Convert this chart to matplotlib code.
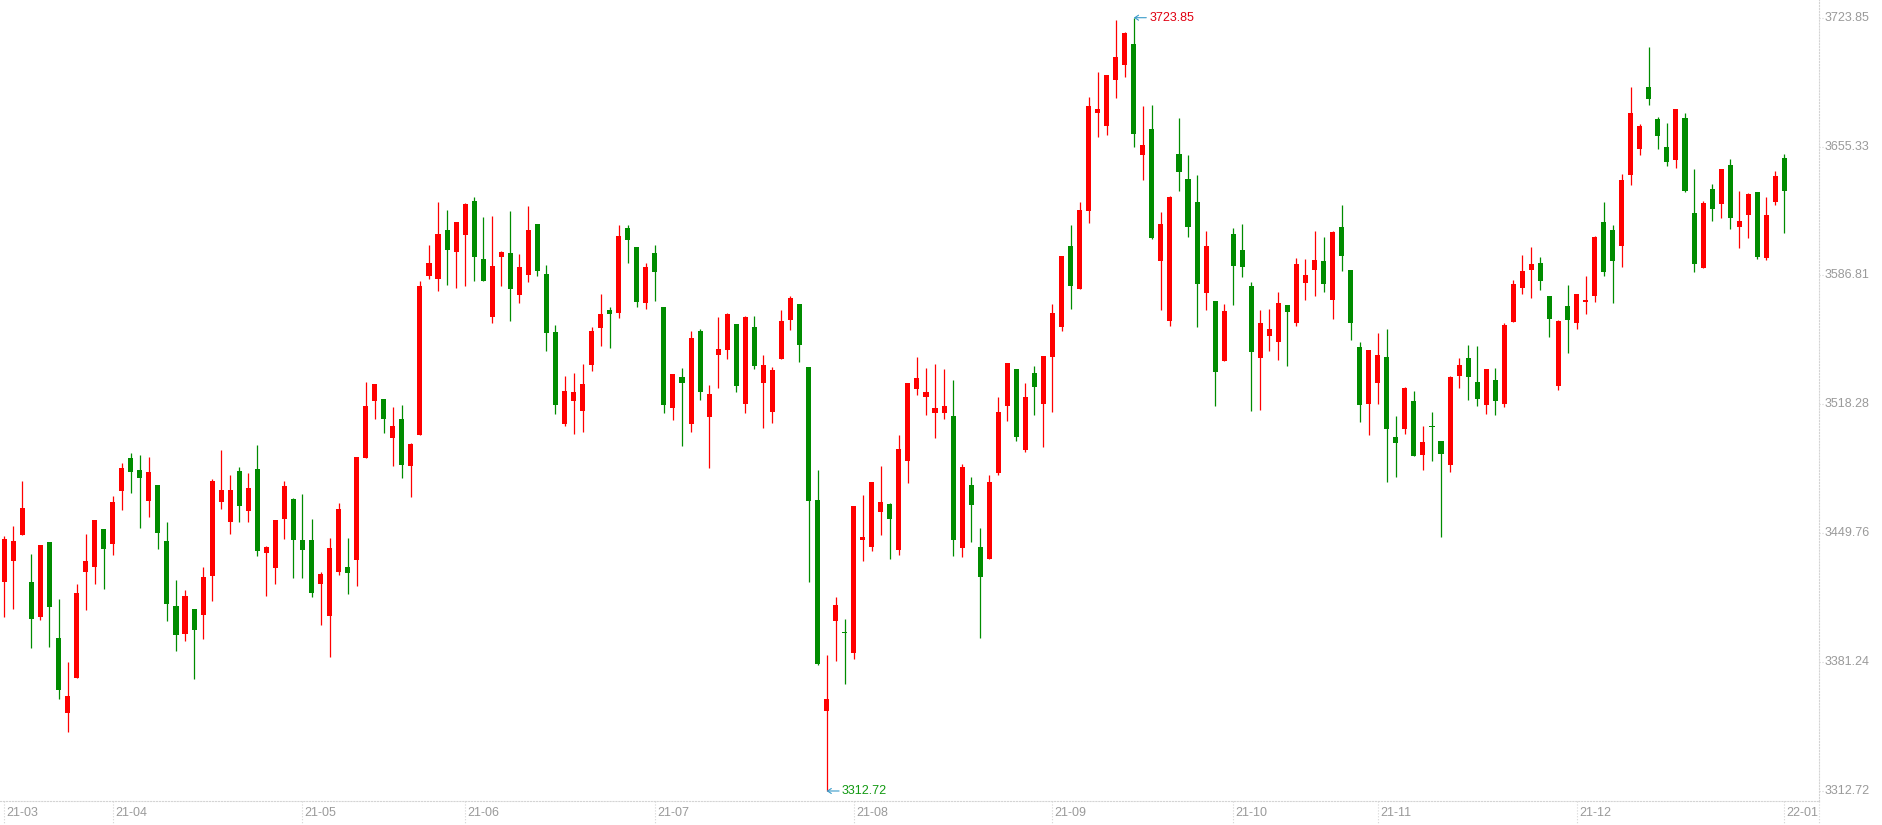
import matplotlib
matplotlib.use("Agg")
import matplotlib.pyplot as plt
import matplotlib.transforms as mtransforms
import numpy as np

# daily candles, 2021-03-16 .. 2022-01-04
opens = [3424.01, 3435.18, 3449.00, 3423.84, 3405.41, 3445.10, 3394.06, 3354.37, 3372.98, 3429.33,
         3431.99, 3452.02, 3444.22, 3472.40, 3489.80, 3483.38, 3467.08, 3475.41, 3445.64, 3411.08,
         3396.37, 3409.48, 3406.47, 3427.20, 3466.55, 3455.91, 3482.85, 3461.76, 3483.91, 3439.43,
         3431.46, 3457.51, 3467.96, 3446.17, 3446.17, 3422.95, 3405.94, 3429.33, 3431.81, 3435.71,
         3489.94, 3520.24, 3521.13, 3500.57, 3510.50, 3485.69, 3502.17, 3586.52, 3584.92, 3610.97,
         3599.28, 3608.32, 3626.39, 3595.56, 3564.72, 3596.62, 3598.75, 3576.42, 3587.05, 3614.16,
         3587.58, 3556.74, 3507.83, 3520.06, 3514.74, 3539.20, 3558.87, 3568.44, 3566.85, 3612.04,
         3601.94, 3572.35, 3598.50, 3570.04, 3516.52, 3532.83, 3508.02, 3557.28, 3511.74, 3544.70,
         3547.36, 3561.01, 3518.65, 3559.41, 3529.81, 3514.40, 3542.57, 3563.31, 3571.64, 3538.14,
         3467.43, 3355.43, 3403.28, 3397.43, 3386.00, 3446.34, 3442.62, 3461.23, 3465.31, 3441.03,
         3488.34, 3526.62, 3522.37, 3513.87, 3513.87, 3512.09, 3442.09, 3475.41, 3442.45, 3436.24,
         3481.97, 3517.59, 3537.08, 3494.19, 3534.95, 3518.65, 3543.64, 3559.58, 3602.47, 3579.79,
         3621.26, 3673.36, 3666.45, 3690.90, 3698.88, 3709.87, 3651.03, 3664.67, 3594.68, 3562.77,
         3651.38, 3638.09, 3625.86, 3577.66, 3573.41, 3541.51, 3608.85, 3600.34, 3581.20, 3543.10,
         3554.80, 3551.61, 3571.11, 3561.72, 3582.98, 3589.89, 3594.50, 3573.94, 3612.58, 3589.72,
         3548.78, 3518.65, 3529.82, 3543.46, 3500.93, 3505.36, 3520.07, 3491.54, 3506.95, 3498.80,
         3486.22, 3533.54, 3542.93, 3530.17, 3518.12, 3531.23, 3518.65, 3562.24, 3580.32, 3589.89,
         3593.44, 3575.89, 3528.22, 3570.57, 3561.71, 3572.88, 3576.07, 3615.23, 3610.98, 3602.65,
         3640.00, 3654.22, 3687.00, 3670.00, 3655.10, 3648.19, 3670.52, 3620.01, 3590.77, 3632.77,
         3624.80, 3645.53, 3612.57, 3618.95, 3631.18, 3596.09, 3625.86, 3649.25]

highs = [3448.29, 3453.61, 3477.54, 3438.72, 3443.51, 3445.10, 3414.80, 3381.31, 3422.77, 3449.36,
         3456.80, 3452.02, 3469.56, 3487.28, 3492.60, 3491.50, 3490.50, 3475.41, 3455.74, 3424.90,
         3419.58, 3409.48, 3431.81, 3478.60, 3494.02, 3480.72, 3484.98, 3481.79, 3496.67, 3442.97,
         3456.80, 3477.53, 3468.30, 3470.62, 3457.33, 3429.15, 3447.23, 3465.84, 3447.23, 3490.29,
         3530.17, 3529.11, 3521.13, 3516.88, 3517.94, 3497.74, 3583.86, 3603.00, 3625.86, 3621.61,
         3615.23, 3625.33, 3628.52, 3617.89, 3618.42, 3599.81, 3621.07, 3598.21, 3623.73, 3614.16,
         3592.37, 3560.47, 3533.35, 3534.95, 3539.73, 3559.40, 3576.95, 3570.04, 3613.63, 3613.63,
         3601.94, 3593.50, 3603.00, 3570.04, 3534.42, 3537.61, 3557.28, 3558.35, 3528.58, 3564.73,
         3566.85, 3561.01, 3565.26, 3565.26, 3544.52, 3538.14, 3568.45, 3575.89, 3571.64, 3538.14,
         3483.38, 3385.03, 3415.86, 3404.17, 3464.24, 3470.09, 3477.00, 3485.51, 3465.84, 3502.00,
         3529.64, 3543.46, 3537.61, 3539.74, 3537.08, 3531.23, 3486.57, 3479.66, 3452.55, 3480.72,
         3522.19, 3540.27, 3537.08, 3529.64, 3538.67, 3543.99, 3571.50, 3597.15, 3613.63, 3625.86,
         3681.69, 3694.98, 3693.38, 3722.63, 3716.25, 3723.85, 3676.90, 3677.43, 3620.55, 3629.05,
         3670.52, 3650.85, 3640.22, 3610.45, 3573.41, 3571.64, 3612.04, 3614.16, 3583.33, 3568.62,
         3569.15, 3578.02, 3571.11, 3596.10, 3595.57, 3610.45, 3607.26, 3610.45, 3624.27, 3589.72,
         3551.43, 3547.18, 3556.22, 3558.35, 3512.09, 3527.51, 3525.39, 3506.78, 3514.22, 3498.80,
         3533.36, 3542.93, 3549.84, 3549.31, 3537.08, 3537.61, 3561.53, 3584.40, 3597.69, 3601.94,
         3596.63, 3575.89, 3563.13, 3581.74, 3576.95, 3586.52, 3607.79, 3625.87, 3613.64, 3641.00,
         3687.00, 3667.33, 3708.27, 3671.05, 3667.86, 3675.31, 3673.18, 3643.41, 3626.40, 3635.43,
         3643.41, 3648.72, 3631.71, 3630.65, 3631.18, 3628.52, 3642.34, 3651.38]

lows = [3405.41, 3409.48, 3449.00, 3388.93, 3403.63, 3389.46, 3361.81, 3344.27, 3372.98, 3408.95,
        3422.77, 3420.12, 3438.19, 3462.12, 3471.33, 3452.72, 3458.57, 3441.56, 3403.28, 3387.33,
        3392.65, 3372.44, 3393.53, 3413.91, 3462.82, 3449.53, 3455.91, 3455.91, 3437.84, 3416.57,
        3422.95, 3446.87, 3426.14, 3426.14, 3416.04, 3401.15, 3384.14, 3427.74, 3417.63, 3421.89,
        3489.94, 3510.67, 3503.23, 3485.69, 3479.31, 3469.20, 3502.17, 3585.10, 3578.54, 3581.73,
        3580.14, 3581.20, 3583.86, 3583.86, 3561.53, 3581.20, 3562.59, 3572.16, 3583.33, 3586.52,
        3546.64, 3513.15, 3506.77, 3502.52, 3503.58, 3536.01, 3549.30, 3548.24, 3564.19, 3593.43,
        3570.04, 3569.16, 3573.41, 3513.87, 3510.14, 3496.32, 3503.76, 3520.78, 3484.62, 3527.16,
        3542.57, 3525.03, 3513.87, 3537.26, 3505.89, 3508.55, 3542.57, 3557.99, 3540.98, 3424.01,
        3379.71, 3312.72, 3382.01, 3369.78, 3383.00, 3435.18, 3440.49, 3449.00, 3436.24, 3438.37,
        3476.65, 3523.43, 3512.80, 3500.57, 3510.67, 3437.84, 3437.31, 3445.28, 3394.24, 3436.24,
        3480.90, 3509.61, 3498.98, 3493.13, 3512.80, 3495.79, 3514.40, 3557.28, 3569.15, 3579.79,
        3614.87, 3660.60, 3661.66, 3681.33, 3692.50, 3655.28, 3637.74, 3606.37, 3568.62, 3560.11,
        3631.89, 3607.43, 3559.58, 3568.62, 3517.58, 3541.51, 3571.28, 3586.17, 3514.92, 3515.46,
        3546.82, 3542.04, 3538.85, 3560.12, 3573.94, 3576.07, 3578.20, 3563.84, 3589.36, 3552.68,
        3509.08, 3502.17, 3518.65, 3477.18, 3479.84, 3502.70, 3491.00, 3483.56, 3488.35, 3447.94,
        3482.50, 3527.16, 3520.78, 3517.58, 3513.33, 3512.80, 3517.06, 3562.24, 3577.13, 3575.01,
        3579.26, 3554.27, 3526.09, 3545.76, 3558.52, 3566.50, 3572.88, 3586.70, 3572.35, 3591.49,
        3635.00, 3651.03, 3677.43, 3654.04, 3645.00, 3643.94, 3631.18, 3588.82, 3590.77, 3615.76,
        3617.35, 3611.51, 3601.40, 3606.72, 3595.56, 3595.02, 3624.27, 3609.38]

closes = [3446.70, 3445.64, 3463.18, 3404.34, 3443.51, 3410.72, 3366.60, 3363.23, 3417.99, 3435.00,
          3456.80, 3441.56, 3466.37, 3484.45, 3482.50, 3479.31, 3482.32, 3450.07, 3412.32, 3395.84,
          3416.39, 3398.50, 3426.50, 3477.53, 3472.75, 3472.75, 3464.42, 3473.81, 3440.50, 3442.44,
          3456.80, 3474.88, 3446.34, 3441.03, 3418.17, 3428.09, 3441.91, 3462.65, 3428.80, 3490.29,
          3517.41, 3529.11, 3510.67, 3506.78, 3486.22, 3497.21, 3581.20, 3593.43, 3608.85, 3600.34,
          3615.23, 3624.80, 3596.62, 3583.86, 3591.83, 3599.28, 3579.61, 3591.30, 3610.97, 3589.18,
          3556.21, 3517.93, 3525.38, 3524.85, 3529.10, 3557.28, 3566.32, 3566.32, 3607.78, 3605.66,
          3572.69, 3591.20, 3588.80, 3518.12, 3534.42, 3529.81, 3553.56, 3525.03, 3523.79, 3547.71,
          3566.32, 3528.22, 3564.73, 3538.85, 3539.21, 3536.55, 3562.60, 3574.83, 3550.02, 3467.08,
          3380.24, 3361.63, 3411.61, 3396.90, 3464.24, 3447.76, 3477.00, 3466.37, 3457.51, 3494.55,
          3529.64, 3532.29, 3524.85, 3516.35, 3517.41, 3446.34, 3484.98, 3464.95, 3426.67, 3477.00,
          3514.22, 3540.27, 3501.10, 3522.19, 3527.69, 3543.99, 3567.10, 3597.15, 3581.38, 3621.61,
          3676.90, 3675.13, 3693.38, 3702.95, 3715.71, 3662.19, 3656.17, 3606.90, 3614.18, 3628.52,
          3641.99, 3612.75, 3582.44, 3602.47, 3535.66, 3568.09, 3592.01, 3591.48, 3546.29, 3561.53,
          3558.35, 3572.17, 3567.56, 3592.91, 3587.06, 3595.03, 3582.45, 3609.92, 3597.34, 3561.72,
          3518.12, 3547.18, 3544.53, 3505.36, 3497.92, 3526.98, 3491.00, 3498.27, 3506.42, 3492.07,
          3532.83, 3539.21, 3533.00, 3521.31, 3537.08, 3520.24, 3560.47, 3582.27, 3589.18, 3592.90,
          3584.04, 3563.84, 3562.60, 3563.31, 3576.95, 3573.77, 3607.26, 3588.83, 3594.68, 3637.60,
          3673.00, 3666.27, 3680.62, 3660.95, 3647.13, 3675.31, 3631.71, 3593.08, 3625.35, 3622.14,
          3643.41, 3617.35, 3615.76, 3630.12, 3596.62, 3618.95, 3639.68, 3631.71]

# first trading day of each month (candle index) and its label
month_starts = [0, 12, 33, 51, 72, 94, 116, 136, 152, 174, 197]
month_labels = ["21-03", "21-04", "21-05", "21-06", "21-07", "21-08",
                "21-09", "21-10", "21-11", "21-12", "22-01"]

y_ticks = [3723.85, 3655.33, 3586.81, 3518.28, 3449.76, 3381.24, 3312.72]

UP = "#ff0000"
DOWN = "#008c00"
GRID = "#d4d4d4"
TXT = "#9a9a9a"
FONT = "Liberation Sans"

W, H = 1882, 825
fig = plt.figure(figsize=(W / 100, H / 100), dpi=100)
ax = fig.add_axes([0, 24 / H, 1819 / W, 801 / H])

x = np.arange(len(opens))
o = np.array(opens)
c = np.array(closes)
cols = [UP if cc >= oo else DOWN for oo, cc in zip(o, c)]

ax.vlines(x, lows, highs, colors=cols, lw=0.9)
bottom = np.minimum(o, c)
height = np.maximum(np.abs(c - o), 0.6)
ax.bar(x, height, bottom=bottom, width=0.56, color=cols, linewidth=0)

ax.set_xlim(-0.476, 200.83)
ax.set_ylim(3307.40, 3733.26)
ax.set_xticks([])
ax.set_yticks([])
for s in ["top", "left"]:
    ax.spines[s].set_visible(False)
for s in ["right", "bottom"]:
    ax.spines[s].set_color(GRID)
    ax.spines[s].set_linestyle(":")
    ax.spines[s].set_linewidth(0.8)

# right price axis
ty = mtransforms.blended_transform_factory(ax.transAxes, ax.transData)
for v in y_ticks:
    ax.plot([1.0, 1.0025], [v, v], transform=ty, color=GRID, ls=":", lw=0.8, clip_on=False)
    ax.text(1.0028, v, "%.2f" % v, transform=ty, ha="left", va="center",
            fontsize=9, color=TXT, family=FONT, clip_on=False)

# month axis
tx = mtransforms.blended_transform_factory(ax.transData, ax.transAxes)
for i, lab in zip(month_starts, month_labels):
    ax.plot([i, i], [0, -24 / 801], transform=tx, color=GRID, ls=":", lw=0.8, clip_on=False)
    ax.text(i + 0.25, -12 / 801, lab, transform=tx, ha="left", va="center",
            fontsize=9, color=TXT, family=FONT, clip_on=False)
ax.plot([1, 1], [0, -24 / 801], transform=ax.transAxes, color=GRID, ls=":", lw=0.8, clip_on=False)

# highest / lowest marks
hi = int(np.argmax(highs))
lo = int(np.argmin(lows))
arrow = dict(arrowstyle="->,head_length=0.3,head_width=0.2", color="#3a9bc9",
             lw=0.8, shrinkA=0, shrinkB=0)
ax.annotate("%.2f" % highs[hi], xy=(hi, highs[hi]), xytext=(11, 0),
            textcoords="offset points", ha="left", va="center", fontsize=9,
            color="#e00010", family=FONT, arrowprops=arrow, annotation_clip=False)
ax.annotate("%.2f" % lows[lo], xy=(lo, lows[lo]), xytext=(11, 0),
            textcoords="offset points", ha="left", va="center", fontsize=9,
            color="#119911", family=FONT, arrowprops=arrow, annotation_clip=False)

fig.savefig("out.png", dpi=100)
